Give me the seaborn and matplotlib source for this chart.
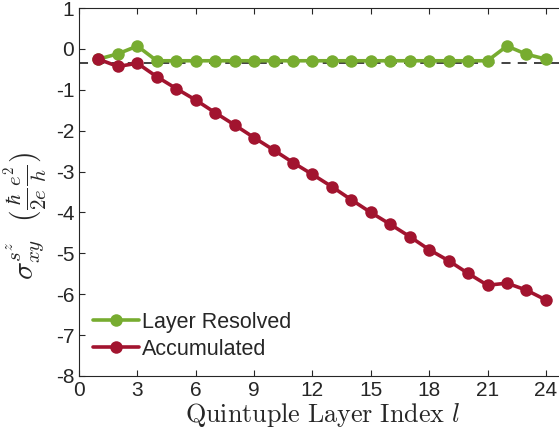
import numpy as np
import pandas as pd
import matplotlib
matplotlib.use('Agg')
import matplotlib.pyplot as plt
import seaborn as sns

layers = list(range(1, 25))
layer_resolved = [-0.25, -0.12, 0.07, -0.29, -0.29, -0.29, -0.29, -0.29, -0.29, -0.29,
                  -0.29, -0.29, -0.29, -0.29, -0.29, -0.29, -0.29, -0.29, -0.29, -0.29,
                  -0.29, 0.07, -0.13, -0.25]
accumulated = [-0.25, -0.43, -0.35, -0.68, -0.97, -1.25, -1.56, -1.86, -2.17, -2.47,
               -2.78, -3.07, -3.37, -3.69, -4.0, -4.29, -4.59, -4.91, -5.18, -5.49,
               -5.78, -5.73, -5.9, -6.14]
reference_level = -0.34
x_ticks = [0, 3, 6, 9, 12, 15, 18, 21, 24]
y_ticks = [-8, -7, -6, -5, -4, -3, -2, -1, 0, 1]

sns.set_style('ticks')
plt.rcParams['font.family'] = ['Liberation Sans', 'DejaVu Sans']
plt.rcParams['mathtext.fontset'] = 'cm'
plt.rcParams['axes.unicode_minus'] = False

df = pd.DataFrame({
    'layer': layers * 2,
    'sigma': layer_resolved + accumulated,
    'series': ['Layer Resolved'] * 24 + ['Accumulated'] * 24,
})

fig = plt.figure(figsize=(5.59, 4.46), dpi=100)
ax = fig.add_axes([0.1413, 0.157, 0.870, 0.825])

ax.axhline(reference_level, color='#333333', ls=(0, (5, 4)), lw=1.3, zorder=1)
sns.lineplot(data=df, x='layer', y='sigma', hue='series',
             palette={'Layer Resolved': '#77AC30', 'Accumulated': '#A2142F'},
             marker='o', markersize=9, markeredgewidth=0, linewidth=2.6,
             ax=ax, zorder=3)

ax.set_xlim(0, 25)
ax.set_ylim(-8, 1)
ax.set_xticks(x_ticks)
ax.set_yticks(y_ticks)
ax.tick_params(direction='in', top=True, right=False, length=4, width=0.8,
               labelsize=15, colors='#262626')
for s in ax.spines.values():
    s.set_color('#262626')
    s.set_linewidth(0.8)

ax.set_xlabel(r'$\mathrm{Quintuple\ Layer\ Index}\ l$', fontsize=18.8, color='#262626', labelpad=1)
ax.set_ylabel(r'$\sigma_{xy}^{s^z}\ \ (\frac{\hbar}{2e}\frac{e^2}{h})$', fontsize=21.5, color='#262626', labelpad=0)
ax.yaxis.set_label_coords(-0.062, 0.435)

ax.legend(loc='lower left', bbox_to_anchor=(0.012, 0.02), frameon=False, fontsize=15.5,
          handlelength=2.1, handletextpad=0.15, labelspacing=0.3, borderaxespad=0)

fig.savefig('out.png', dpi=100)
